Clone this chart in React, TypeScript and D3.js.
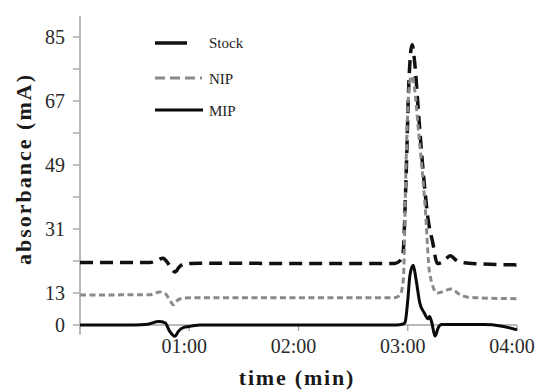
import { scaleLinear, line, curveMonotoneX } from "d3";

// time in minutes
const stockTime = [0, 0.64, 0.71, 0.76, 0.8, 0.84, 0.87, 0.91, 0.96, 1.1, 2.0, 2.88, 2.93, 2.956, 2.984, 3.01, 3.04, 3.066, 3.1, 3.14, 3.185, 3.23, 3.27, 3.3, 3.35, 3.39, 3.44, 3.52, 3.66, 4.0];
const stockValue = [21.6, 21.6, 22.3, 22.8, 21.6, 19.6, 18.9, 20.4, 21.2, 21.4, 21.3, 21.3, 22.1, 24, 45, 72, 82.8, 77, 63, 47.6, 34, 27, 21.3, 21.5, 22.6, 23.5, 22.3, 21.5, 21.2, 20.9];

const nipTime = [0, 0.64, 0.73, 0.78, 0.83, 0.855, 0.9, 0.95, 1.1, 2.0, 2.88, 2.93, 2.96, 2.985, 3.01, 3.035, 3.06, 3.1, 3.16, 3.2, 3.27, 3.31, 3.4, 3.47, 3.54, 3.66, 4.0];
const nipValue = [12.2, 12.3, 13.3, 12.8, 9.5, 8.2, 10.3, 10.9, 11.1, 11.1, 11.1, 12.2, 17, 50, 70, 74, 71, 58, 37, 18.6, 13, 13.3, 14.1, 12.6, 11.4, 11.0, 10.7];

const mipTime = [0, 0.5, 0.62, 0.72, 0.78, 0.82, 0.87, 0.9, 0.95, 1.0, 1.05, 1.1, 2.0, 2.9, 2.95, 2.975, 3.0, 3.02, 3.05, 3.075, 3.11, 3.15, 3.185, 3.2, 3.22, 3.25, 3.28, 3.31, 3.5, 3.7, 3.85, 4.0];
const mipValue = [0, 0, 0.3, 1.4, 0.9, -2.5, -4.6, -2.6, -1.0, -0.6, -0.2, 0, 0, 0, 0.3, 1, 10, 18, 20.8, 17, 9, 5, 2.5, 3.5, 1, -4.5, -1, 0.2, 0.2, 0.2, -0.4, -2];

const yLabelTicks = [0, 13, 31, 49, 67, 85];
const yMinorTicks = [22, 40, 58, 76];
const xTicks = [1, 2, 3, 4];
const xTickLabels = ["01:00", "02:00", "03:00", "04:00"];
const legendNames = ["Stock", "NIP", "MIP"];

const serif = '"Liberation Serif", "Times New Roman", Times, "DejaVu Serif", serif';

export default function App() {
  const width = 543;
  const height = 392;

  const x = scaleLinear().domain([0, 4]).range([80, 517]);
  // the original axis is not linear below 13
  const y = scaleLinear().domain([0, 13, 85]).range([325, 293, 37]);

  const path = (ts: number[], vs: number[]) =>
    line<number>()
      .x((_, i) => x(ts[i]))
      .y((v) => y(v))
      .curve(curveMonotoneX)(vs) ?? "";

  const series = [
    { name: legendNames[0], d: path(stockTime, stockValue), stroke: "#111", width: 3.5, dash: "13 7" },
    { name: legendNames[1], d: path(nipTime, nipValue), stroke: "#8a8a8a", width: 3, dash: "6 3.5" },
    { name: legendNames[2], d: path(mipTime, mipValue), stroke: "#0a0a0a", width: 3, dash: undefined },
  ];

  const axisColor = "#a3a3a3";
  const txt = { fontFamily: serif };

  return (
    <svg
      width={width}
      height={height}
      style={{ position: "absolute", left: 0, top: 0, background: "#fff", fontFamily: serif }}
    >
      {/* y axis */}
      <line x1={x(0)} x2={x(0)} y1={y(91)} y2={y(-4)} stroke={axisColor} strokeWidth={1.5} />
      {[...yLabelTicks, ...yMinorTicks].map((t) => (
        <line key={t} x1={x(0) - 7} x2={x(0)} y1={y(t)} y2={y(t)} stroke={axisColor} strokeWidth={1.3} />
      ))}
      {yLabelTicks.map((t) => (
        <text key={t} x={65} y={y(t) + 7} textAnchor="end" style={txt} fontSize={20} fill="#2a2a2a">
          {t}
        </text>
      ))}

      {/* x axis */}
      <line x1={x(0)} x2={x(4)} y1={y(0)} y2={y(0)} stroke={axisColor} strokeWidth={1.5} />
      {xTicks.map((t, i) => (
        <g key={t}>
          <line x1={x(t)} x2={x(t)} y1={y(0)} y2={y(0) + 6} stroke={axisColor} strokeWidth={1.3} />
          <text x={x(t) - 5} y={353} textAnchor="middle" style={txt} fontSize={20} fill="#2a2a2a">
            {xTickLabels[i]}
          </text>
        </g>
      ))}

      {/* series */}
      {series.map((s) => (
        <path
          key={s.name}
          d={s.d}
          fill="none"
          stroke={s.stroke}
          strokeWidth={s.width}
          strokeDasharray={s.dash}
          strokeLinejoin="round"
        />
      ))}

      {/* legend */}
      <line x1={155} x2={187} y1={43} y2={43} stroke="#111" strokeWidth={3.5} />
      <line x1={155} x2={202} y1={78} y2={78} stroke="#8a8a8a" strokeWidth={3} strokeDasharray="10 5" />
      <line x1={155} x2={203} y1={110} y2={110} stroke="#0a0a0a" strokeWidth={3} />
      {legendNames.map((n, i) => (
        <text key={n} x={209} y={[48, 84, 116][i]} style={txt} fontSize={15} fill="#222">
          {n}
        </text>
      ))}

      {/* axis titles */}
      <text
        x={297}
        y={385}
        textAnchor="middle"
        style={txt}
        fontSize={22}
        fontWeight="bold"
        letterSpacing={1.8}
        fill="#1a1a1a"
      >
        time (min)
      </text>
      <text
        transform="translate(31,169) rotate(-90)"
        textAnchor="middle"
        style={txt}
        fontSize={22}
        fontWeight="bold"
        letterSpacing={2}
        fill="#1a1a1a"
      >
        absorbance (mA)
      </text>
    </svg>
  );
}
